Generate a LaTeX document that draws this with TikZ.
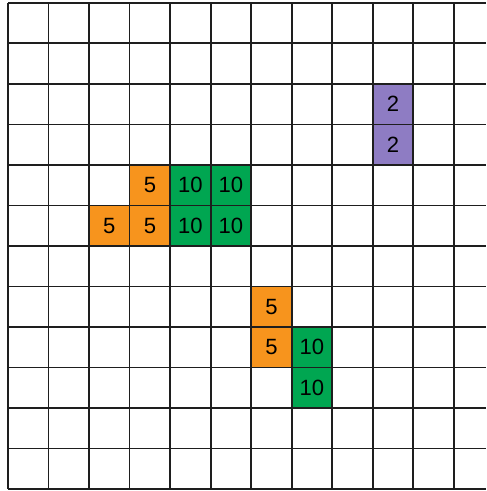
\documentclass[tikz,border=0pt]{standalone}
\usepackage{fontspec}
\setmainfont{Liberation Sans}
\usepackage{xcolor}
\usepackage{tikz}
\usetikzlibrary{positioning}
\definecolor{orangec}{RGB}{247,148,29}
\definecolor{vertc}{RGB}{0,166,81}
\definecolor{violetc}{RGB}{142,124,195}
\definecolor{traitc}{RGB}{30,30,30}

\begin{document}
\begin{tikzpicture}[x=1cm, y=1cm,
  cell/.style={rectangle, draw=traitc, fill=#1, line width=1.2pt,
               minimum size=1cm, inner sep=0pt, outer sep=0pt,
               font=\fontsize{15.5}{18}\selectfont},
  grille/.style={draw=traitc, line width=1.2pt}]

\useasboundingbox (-0.2,-0.05) rectangle (11.8,12.07);

% ── la grille ──
\draw[grille] (0,0) grid (11.8,12);

% ── bloc violet ──
\node[cell=violetc] (v1) at (9.5,9.5) {2};
\node[cell=violetc, below=0pt of v1] (v2) {2};

% ── premier bloc orange / vert ──
\node[cell=orangec] (o1) at (3.5,7.5) {5};
\node[cell=vertc, right=0pt of o1] (g1) {10};
\node[cell=vertc, right=0pt of g1] (g2) {10};
\node[cell=orangec, below=0pt of o1] (o2) {5};
\node[cell=orangec, left=0pt of o2] (o3) {5};
\node[cell=vertc, right=0pt of o2] (g3) {10};
\node[cell=vertc, right=0pt of g3] (g4) {10};

% ── second bloc orange / vert ──
\node[cell=orangec] (o4) at (6.5,4.5) {5};
\node[cell=orangec, below=0pt of o4] (o5) {5};
\node[cell=vertc, right=0pt of o5] (g5) {10};
\node[cell=vertc, below=0pt of g5] (g6) {10};

\end{tikzpicture}
\end{document}
